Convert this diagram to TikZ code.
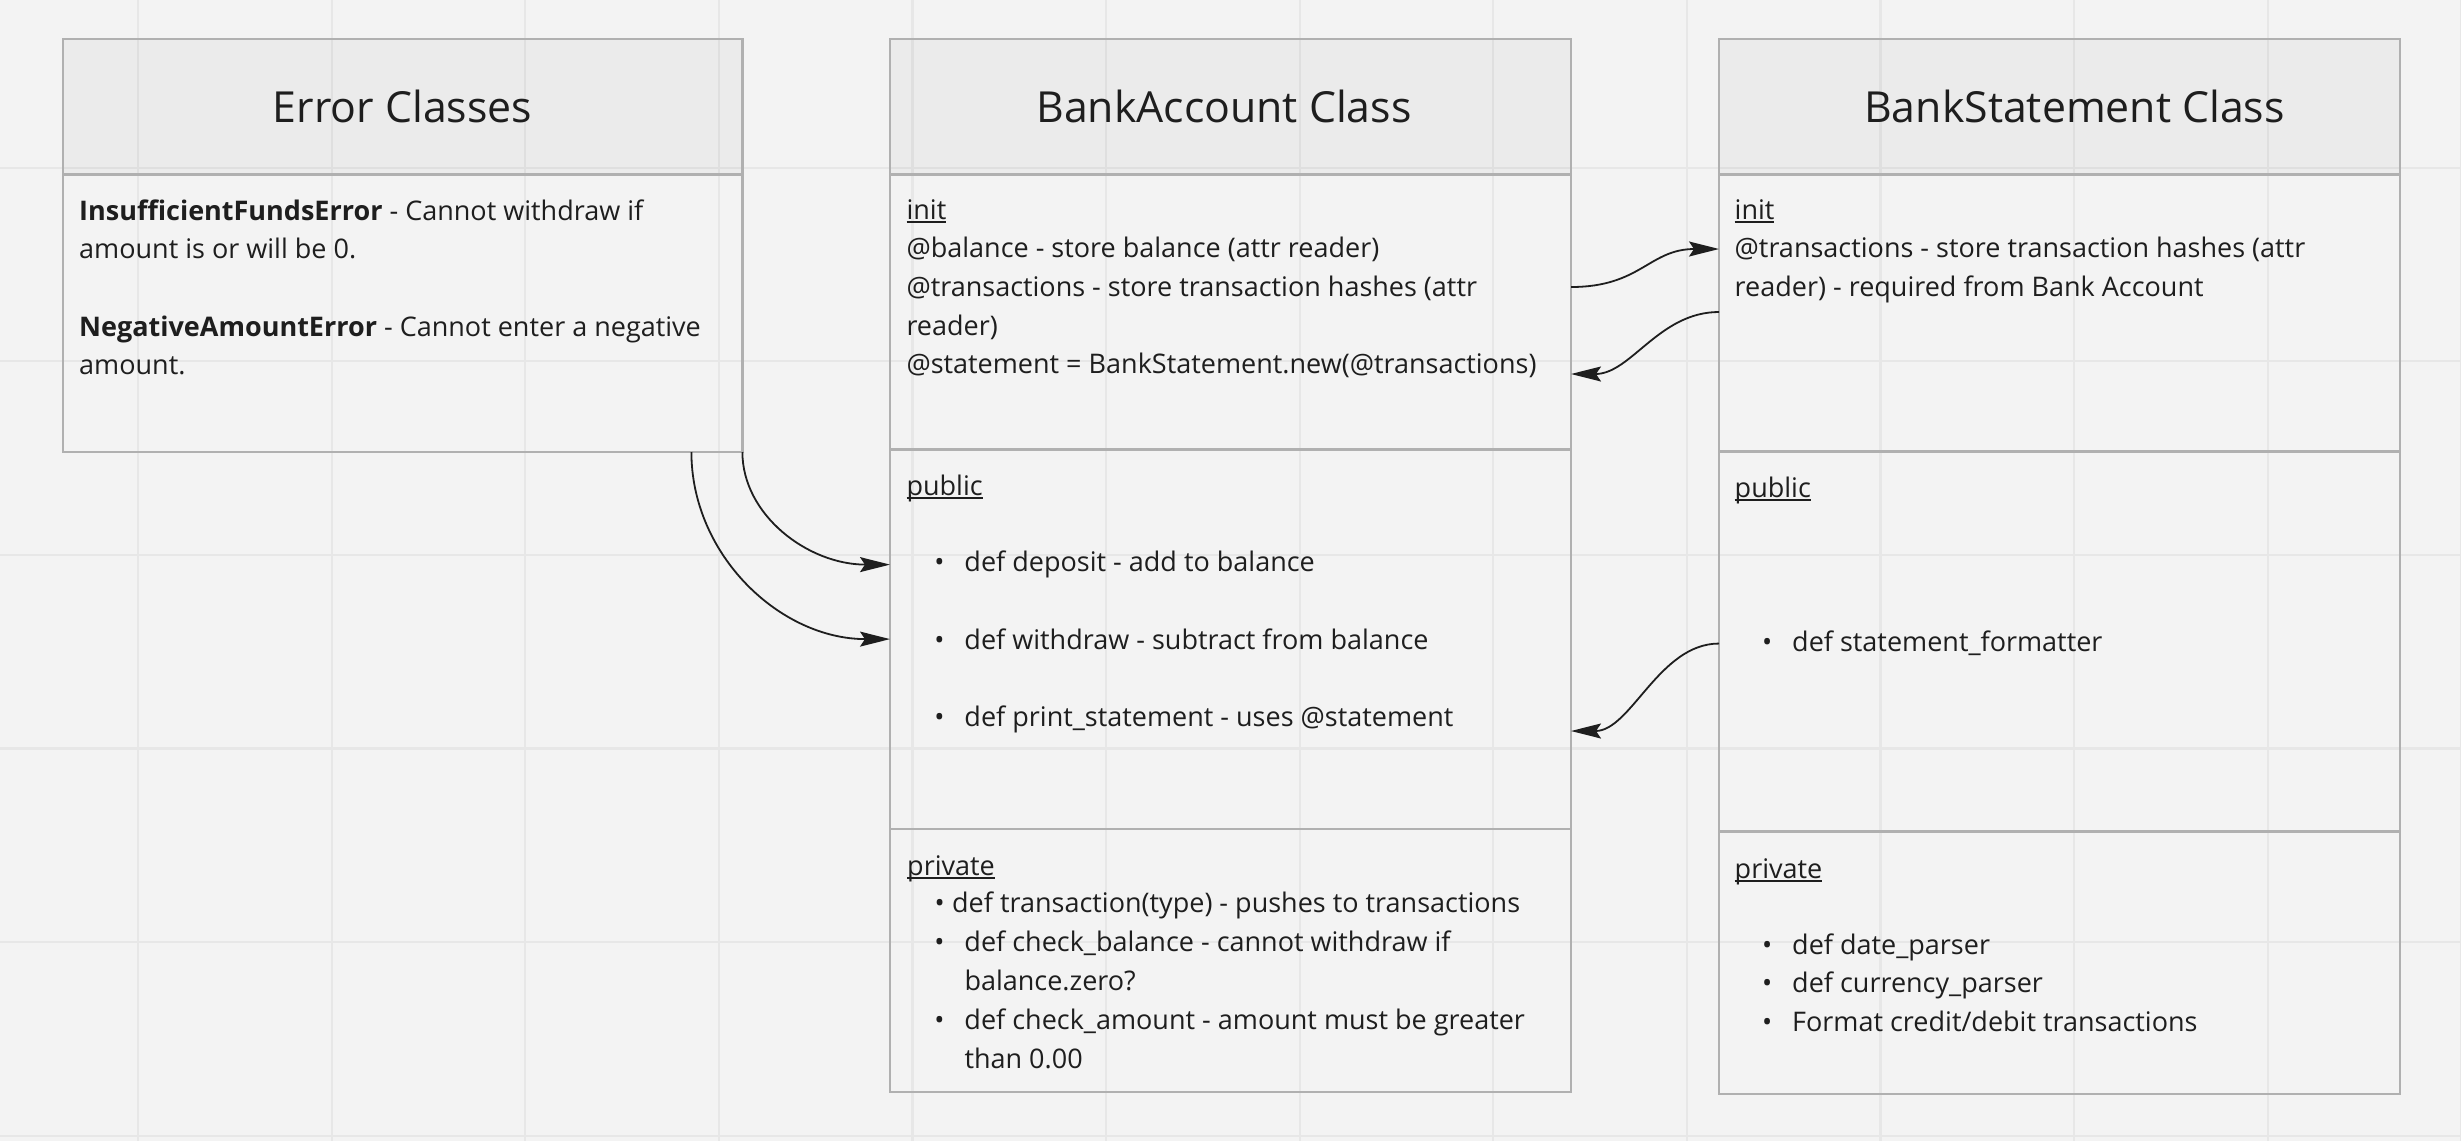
\documentclass[tikz,border=0pt]{standalone}
\usepackage{fontspec}
\setmainfont{Open Sans}
\usetikzlibrary{arrows.meta}

\definecolor{bgc}{HTML}{F3F3F3}
\definecolor{gridc}{HTML}{E7E7E7}
\definecolor{linec}{HTML}{B0B0B0}
\definecolor{txtc}{HTML}{1E1E1E}

\newsavebox{\secbox}
\newcommand{\secname}[1]{\sbox{\secbox}{#1}\rlap{\rule[-3.5pt]{\wd\secbox}{1.8pt}}\usebox{\secbox}}
\newcommand{\itm}{\llap{•\hspace{20pt}}}
\newcommand{\itmnear}{\llap{•\hspace{7.5pt}}}

\begin{document}
\begin{tikzpicture}[x=1pt,y=-1pt]
	\tikzstyle{Head} = [rectangle, draw=linec, line width=2.5pt, outer sep=0pt, fill=black, fill opacity=0.03, text opacity=1, anchor=north west, minimum width=681pt, minimum height=135.3pt, text=txtc, font=\fontsize{42.8}{50}\selectfont]
	\tikzstyle{Part} = [rectangle, draw=linec, line width=2.5pt, outer sep=0pt, anchor=north west, minimum width=681pt]
	\tikzstyle{Txt} = [anchor=base west, inner sep=0pt, align=left, text=txtc, font=\fontsize{27}{38.7}\selectfont]
	\tikzstyle{arrow} = [line width=1.8pt, txtc, -{Stealth[length=30pt, width=15pt, inset=5pt]}]
	
	\useasboundingbox (0,0) rectangle (2461,1141);
	\fill [bgc] (0,0) rectangle (2461,1141);
	\foreach \gx in {0,...,12}
		\draw [gridc, line width=2.2pt] ({138+193.6*\gx},0) -- ({138+193.6*\gx},1141);
	\foreach \gy in {0,...,5}
		\draw [gridc, line width=2.2pt] (0,{167.7+193.6*\gy}) -- (2461,{167.7+193.6*\gy});
	
	% error classes (multi-line texts sit on their last baseline)
	\node (err) [Head, minimum width=679.6pt] at (62.8,39.2) {Error Classes};
	\node (errbody) [Part, minimum width=679.6pt, minimum height=277.5pt] at (62.8,174.5) {};
	\node (errtxt) [Txt] at (79,374.8) {\textbf{InsufficientFundsError} - Cannot withdraw if\\amount is or will be 0.\\[38.7pt]\textbf{NegativeAmountError} - Cannot enter a negative\\amount.};
	
	% bank account
	\node (acct) [Head] at (890,39.2) {\hspace*{-13pt}BankAccount Class};
	\node (acctinit) [Part, minimum height=274.8pt] at (890,174.5) {};
	\node (acctpub) [Part, minimum height=379.7pt] at (890,449.3) {};
	\node (acctpriv) [Part, minimum height=263pt] at (890,829) {};
	\node (ainit) [Txt] at (906.3,373.8) {\secname{init}\\@balance - store balance (attr reader)\\@transactions - store transaction hashes (attr\\reader)\\@statement = BankStatement.new(@transactions)};
	\node (apub) [Txt] at (906.3,495) {\secname{public}};
	\node (dep) [Txt] at (964.3,571.7) {\itm def deposit - add to balance};
	\node (wdr) [Txt] at (964.3,649.3) {\itm def withdraw - subtract from balance};
	\node (prt) [Txt] at (964.3,726) {\itm def print\_statement - uses @statement};
	\node (apriv) [Txt] at (907,875) {\secname{private}};
	\node (trn) [Txt] at (952,912.7) {\itmnear def transaction(type) - pushes to transactions};
	\node (chb) [Txt] at (964.3,990.4) {\itm def check\_balance - cannot withdraw if\\balance.zero?};
	\node (cha) [Txt] at (964.3,1068) {\itm def check\_amount - amount must be greater\\than 0.00};
	
	% bank statement
	\node (stmt) [Head] at (1719,39.2) {\hspace*{30pt}BankStatement Class};
	\node (stmtinit) [Part, minimum height=277.2pt] at (1719,174.5) {};
	\node (stmtpub) [Part, minimum height=380pt] at (1719,451.7) {};
	\node (stmtpriv) [Part, minimum height=262.3pt] at (1719,831.7) {};
	\node (sinit) [Txt] at (1734.5,296.4) {\secname{init}\\@transactions - store transaction hashes (attr\\reader) - required from Bank Account};
	\node (spub) [Txt] at (1734.5,497) {\secname{public}};
	\node (fmt) [Txt] at (1792,651.8) {\itm def statement\_formatter};
	\node (spriv) [Txt] at (1734.5,878.3) {\secname{private}};
	\node (dtp) [Txt] at (1792,954) {\itm def date\_parser};
	\node (cur) [Txt] at (1792,992.7) {\itm def currency\_parser};
	\node (crd) [Txt] at (1792,1031.7) {\itm Format credit/debit transactions};
	
	% connectors
	\draw [arrow] (errbody.south east) .. controls +(0,63) and +(-82,0) .. (acctpub.west |- dep);
	\draw [arrow] ([xshift=-51pt]errbody.south east) .. controls +(0,103) and +(-110,0) .. (acctpub.west |- wdr);
	\draw [arrow] (acctinit.east |- 0,287) .. controls +(70,0) and +(-70,0) .. (stmtinit.west |- 0,249);
	\draw [arrow] (stmtinit.west |- 0,312) .. controls +(-60,0) and +(60,0) .. (acctinit.east |- 0,374);
	\draw [arrow] (stmtpub.west |- fmt) .. controls +(-60,0) and +(60,0) .. (acctpub.east |- 0,731);
\end{tikzpicture}
\end{document}
